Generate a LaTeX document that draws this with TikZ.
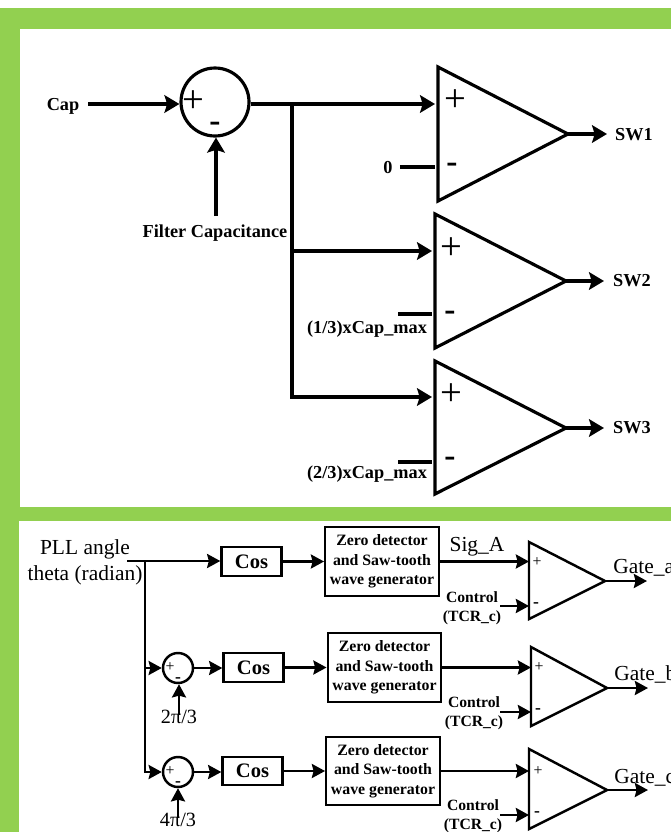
\documentclass[tikz,border=0pt]{standalone}
\usepackage{fontspec}
\setmainfont{Liberation Serif}
\usetikzlibrary{arrows.meta, positioning, calc}
\definecolor{panelgreen}{HTML}{92D050}
\tikzset{
  bigline/.style={line width=1.8pt, >={Stealth[length=8.5pt,width=10pt,inset=1.5pt]}},
  smallline/.style={line width=1.4pt, >={Stealth[length=7.5pt,width=8pt,inset=1pt]}},
  toplabel/.style={font=\fontsize{10.4}{12}\selectfont\bfseries, inner sep=0pt},
  ctrllabel/.style={font=\fontsize{8.9}{11}\selectfont\bfseries, align=center, inner sep=0pt},
  sigabel/.style={font=\fontsize{12.2}{14.9}\selectfont, align=center, inner sep=0pt},
  bigsum/.style={draw, circle, line width=1.8pt, minimum size=1.36cm, inner sep=0pt},
  smallsum/.style={draw, circle, line width=1.4pt, minimum size=0.6cm, inner sep=0pt},
  cosbox/.style={draw, line width=1.4pt, minimum width=1.2cm, minimum height=0.57cm, inner sep=0pt, font=\fontsize{11.7}{14}\selectfont\bfseries},
  zerobox/.style={draw, line width=1.4pt, minimum width=2.27cm, minimum height=1.37cm, inner sep=0pt, align=center, font=\fontsize{9}{11}\selectfont\bfseries},
  bigplus/.style={font=\fontsize{22}{22}\selectfont, inner sep=0pt},
  bigminus/.style={font=\fontsize{19}{19}\selectfont\bfseries, inner sep=0pt},
  smallplus/.style={font=\fontsize{9}{9}\selectfont, inner sep=0pt},
  smallminus/.style={font=\fontsize{10}{10}\selectfont\bfseries, inner sep=0pt}
}
\begin{document}
\begin{tikzpicture}[x=0.02cm, y=-0.02cm]
  \useasboundingbox (0,0) rectangle (671,832);
  \clip (0,0) rectangle (671,832);

  % Draw the green frame and the two white panels
  \fill[panelgreen] (0,8) rectangle (671,832);
  \fill[white] (20,29) rectangle (671,507);
  \fill[white] (19,521) rectangle (671,832);

  % Define the coordinates of the upper comparators
  \coordinate (capOut) at (88,104);
  \coordinate (filterOut) at (216,216);
  \coordinate (branchA) at (292,104);
  \coordinate (branchB) at (292,251);
  \coordinate (branchC) at (292,397);
  \coordinate (cmpOneTop) at (438,67);
  \coordinate (cmpOneBot) at (438,201);
  \coordinate (cmpOneApex) at (568,134);
  \coordinate (cmpOnePlus) at (435,104);
  \coordinate (cmpOneMinus) at (435,167);
  \coordinate (cmpTwoTop) at (435,214);
  \coordinate (cmpTwoBot) at (435,348);
  \coordinate (cmpTwoApex) at (566,281);
  \coordinate (cmpTwoPlus) at (432,251);
  \coordinate (cmpTwoMinus) at (432,314);
  \coordinate (cmpTwoBar) at (398,314);
  \coordinate (cmpThreeTop) at (435,361);
  \coordinate (cmpThreeBot) at (435,494);
  \coordinate (cmpThreeApex) at (566,428);
  \coordinate (cmpThreePlus) at (432,397);
  \coordinate (cmpThreeMinus) at (432,462);
  \coordinate (cmpThreeBar) at (398,462);

  % Draw the upper labels
  \node[bigsum] (sumCap) at (215,102) {};
  \node[toplabel] (capIn) at (63,106) {Cap};
  \node[toplabel] (filterCap) at (215,233) {Filter Capacitance};
  \node[toplabel, inner xsep=4pt] (zeroIn) at (388,168) {0};
  \node[toplabel] (capThird) at (367,329) {(1/3)xCap\_max};
  \node[toplabel] (capTwoThird) at (367,474) {(2/3)xCap\_max};
  \node[toplabel] (swOne) at (634,135) {SW1};
  \node[toplabel] (swTwo) at (632,281) {SW2};
  \node[toplabel] (swThree) at (632,428) {SW3};
  \node[bigplus] (sumCapPlus) at (193,102) {+};
  \node[bigminus] (sumCapMinus) at (215,127) {-};
  \node[bigplus] (cmpOneP) at (455,101) {+};
  \node[bigminus] (cmpOneM) at (452,168) {-};
  \node[bigplus] (cmpTwoP) at (451,249) {+};
  \node[bigminus] (cmpTwoM) at (450,316) {-};
  \node[bigplus] (cmpThreeP) at (451,395) {+};
  \node[bigminus] (cmpThreeM) at (450,462) {-};

  % Draw the upper comparators
  \draw[bigline, line join=miter] (cmpOneTop) -- (cmpOneApex) -- (cmpOneBot) -- cycle;
  \draw[bigline, line join=miter] (cmpTwoTop) -- (cmpTwoApex) -- (cmpTwoBot) -- cycle;
  \draw[bigline, line join=miter] (cmpThreeTop) -- (cmpThreeApex) -- (cmpThreeBot) -- cycle;

  % Draw the upper connections
  \draw[bigline, ->] (capOut) -- (capOut -| sumCap.west);
  \draw[bigline, ->] (filterOut) -- (filterOut |- sumCap.south);
  \draw[bigline, ->] (sumCap.east |- branchA) -- (cmpOnePlus);
  \draw[bigline, ->] (branchA) -- (branchC) -- (cmpThreePlus);
  \draw[bigline, ->] (branchB) -- (cmpTwoPlus);
  \draw[bigline] (zeroIn.east |- cmpOneMinus) -- (cmpOneMinus);
  \draw[bigline] (cmpTwoBar) -- (cmpTwoMinus);
  \draw[bigline] (cmpThreeBar) -- (cmpThreeMinus);
  \draw[bigline, ->] (cmpOneApex) -- (607,134);
  \draw[bigline, ->] (cmpTwoApex) -- (604,281);
  \draw[bigline, ->] (cmpThreeApex) -- (604,428);

  % Define the coordinates of the lower comparators
  \coordinate (pllStart) at (127,561);
  \coordinate (pllBranch) at (145,561);
  \coordinate (pllMid) at (145,668);
  \coordinate (pllEnd) at (145,772);
  \coordinate (cmpATop) at (529,542);
  \coordinate (cmpABot) at (529,619);
  \coordinate (cmpAApex) at (605,581);
  \coordinate (cmpBTop) at (531,647);
  \coordinate (cmpBBot) at (531,726);
  \coordinate (cmpBApex) at (607,688);
  \coordinate (cmpCTop) at (529,749);
  \coordinate (cmpCBot) at (529,829);
  \coordinate (cmpCApex) at (607,790);

  % Draw the lower blocks and labels
  \node[sigabel] (pllText) at (85,562.5) {PLL angle\\theta (radian)};
  \node[cosbox] (cosA) at (251.5,561.5) {Cos};
  \node[cosbox] (cosB) at (253.5,667.5) {Cos};
  \node[cosbox] (cosC) at (252.5,771) {Cos};
  \node[zerobox] (zeroA) at (382,561.5) {Zero detector\\and Saw-tooth\\wave generator};
  \node[zerobox] (zeroB) at (384.5,667.5) {Zero detector\\and Saw-tooth\\wave generator};
  \node[zerobox] (zeroC) at (383,771) {Zero detector\\and Saw-tooth\\wave generator};
  \node[smallsum] (sumB) at (178,668) {};
  \node[smallsum] (sumC) at (178,772) {};
  \node[smallplus] (sumBPlus) at (170,667) {+};
  \node[smallminus] (sumBMinus) at (178,680) {-};
  \node[smallplus] (sumCPlus) at (170,771) {+};
  \node[smallminus] (sumCMinus) at (178,784) {-};
  \node[font=\fontsize{11.5}{13}\selectfont, inner sep=0pt] (phaseB) at (179,717) {2π/3};
  \node[font=\fontsize{11.5}{13}\selectfont, inner sep=0pt] (phaseC) at (178,820) {4π/3};
  \node[sigabel] (sigA) at (477,547) {Sig\_A};
  \node[ctrllabel] (ctrlA) at (472,608) {Control\\(TCR\_c)};
  \node[ctrllabel] (ctrlB) at (474,713.5) {Control\\(TCR\_c)};
  \node[ctrllabel] (ctrlC) at (473,816.5) {Control\\(TCR\_c)};
  \node[sigabel, anchor=west] (gateA) at (613,568) {Gate\_a};
  \node[sigabel, anchor=west] (gateB) at (614,674) {Gate\_b};
  \node[sigabel, anchor=west] (gateC) at (614,778) {Gate\_c};
  \node[smallplus] (cmpAP) at (537,562) {+};
  \node[smallminus] (cmpAM) at (536,605) {-};
  \node[smallplus] (cmpBP) at (539,667) {+};
  \node[smallminus] (cmpBM) at (538,711) {-};
  \node[smallplus] (cmpCP) at (538,771) {+};
  \node[smallminus] (cmpCM) at (537,814) {-};

  % Draw the lower comparators
  \draw[smallline, line join=miter] (cmpATop) -- (cmpAApex) -- (cmpABot) -- cycle;
  \draw[smallline, line join=miter] (cmpBTop) -- (cmpBApex) -- (cmpBBot) -- cycle;
  \draw[smallline, line join=miter] (cmpCTop) -- (cmpCApex) -- (cmpCBot) -- cycle;

  % Draw the lower connections
  \draw[smallline, ->] (pllStart) -- (cosA.west |- pllStart);
  \draw[smallline, ->] (pllBranch) -- (pllEnd) -- (sumC.west);
  \draw[smallline, ->] (pllMid) -- (sumB.west);
  \draw[smallline, ->] (sumB.east) -- (cosB.west |- sumB);
  \draw[smallline, ->] (sumC.east) -- (cosC.west |- sumC);
  \draw[smallline, ->] (phaseB.north) ++(0,5) -- (sumB.south -| phaseB);
  \draw[smallline, ->] (phaseC.north) ++(0,5) -- (sumC.south -| phaseC);
  \draw[smallline, ->] (cosA.east) -- (zeroA.west);
  \draw[smallline, ->] (cosB.east) -- (zeroB.west);
  \draw[smallline, ->] (cosC.east) -- (zeroC.west);
  \draw[smallline, ->] (zeroA.east) -- (zeroA.east -| cmpATop);
  \draw[smallline, ->] (zeroB.east) -- (zeroB.east -| cmpBTop);
  \draw[smallline, ->] (zeroC.east) -- (zeroC.east -| cmpCTop);
  \draw[smallline, ->] (500,606) -- (cmpATop |- 0,606);
  \draw[smallline, ->] (500,712) -- (cmpBTop |- 0,712);
  \draw[smallline, ->] (500,815) -- (cmpCTop |- 0,815);
  \draw[smallline, ->] (cmpAApex) -- (647,581);
  \draw[smallline, ->] (cmpBApex) -- (648,688);
  \draw[smallline, ->] (cmpCApex) -- (648,790);
\end{tikzpicture}
\end{document}
